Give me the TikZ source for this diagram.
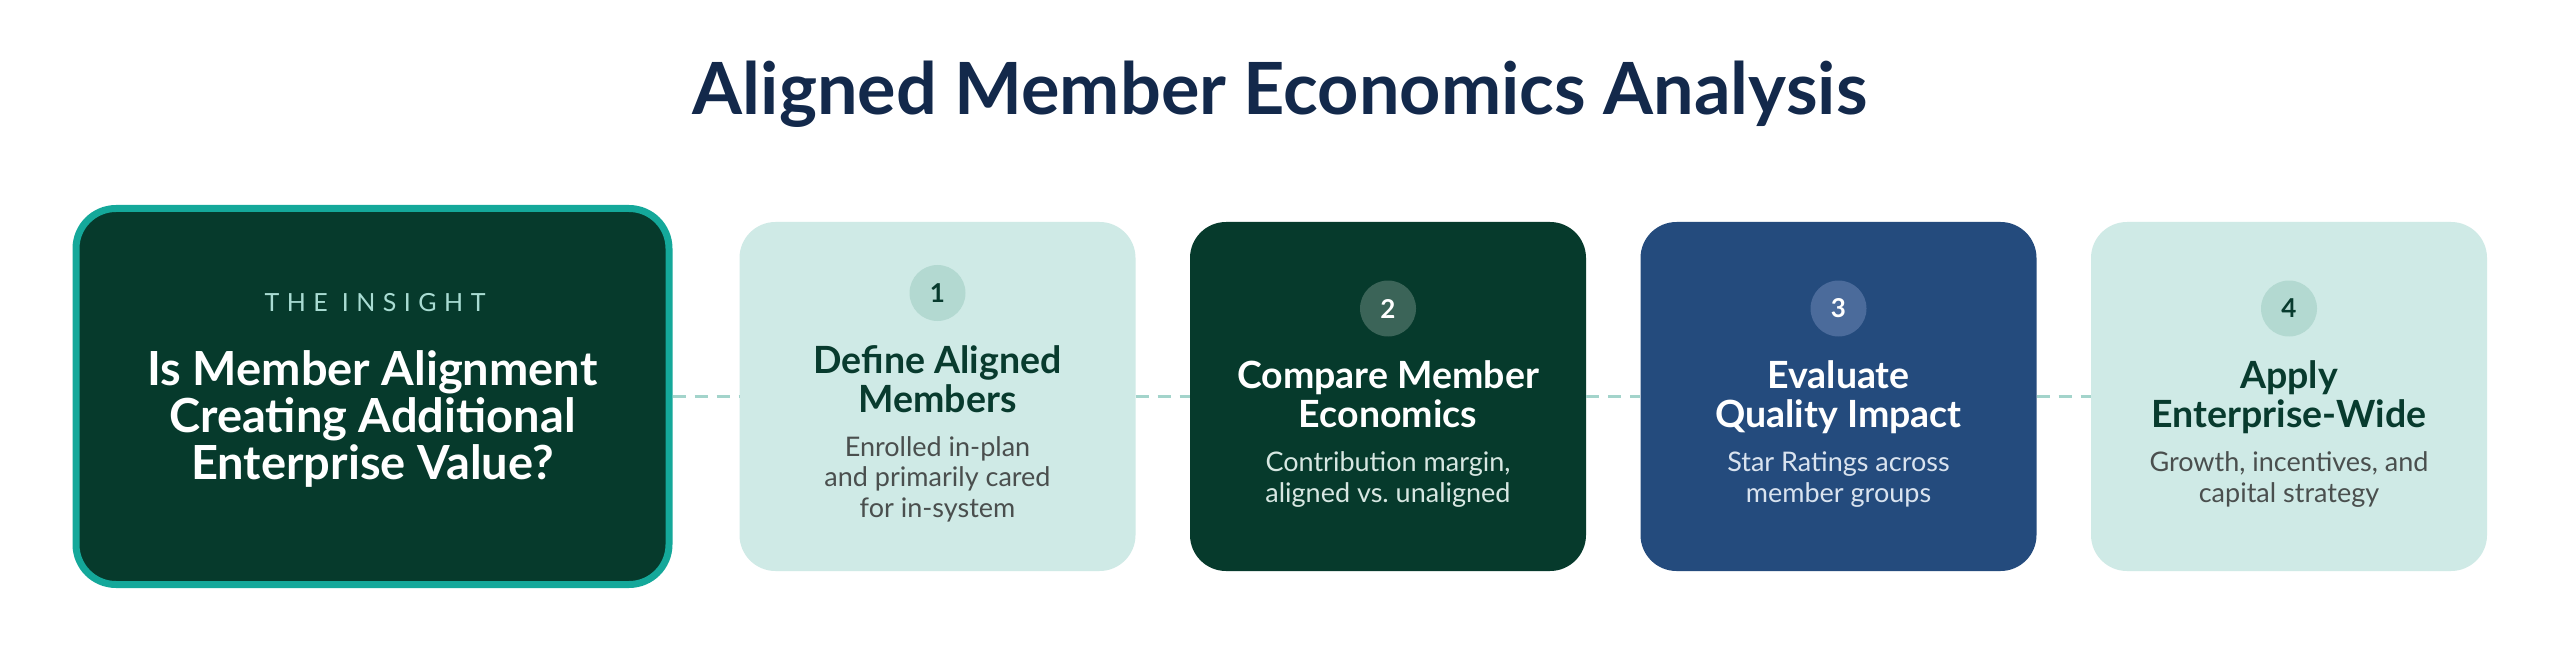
\documentclass[tikz,border=0pt]{standalone}
\usepackage{fontspec}
\setmainfont{Lato}
\definecolor{titlenavy}{HTML}{13294B}
\definecolor{dkgreen}{HTML}{063A2C}
\definecolor{tealborder}{HTML}{14A89A}
\definecolor{lightbox}{HTML}{CFEAE6}
\definecolor{bluebox}{HTML}{244B7D}
\definecolor{badgelight}{HTML}{B3D9D1}
\definecolor{badgegreen}{HTML}{3B6458}
\definecolor{badgeblue}{HTML}{4B6B9B}
\definecolor{dashcol}{HTML}{A3D4CB}
\definecolor{greentxt}{HTML}{083B2E}
\definecolor{greytxt}{HTML}{4A4F4E}
\definecolor{paletxt}{HTML}{D7E7E2}
\definecolor{palebluetxt}{HTML}{D9E3EF}
\definecolor{insighttxt}{HTML}{A9DCD3}
\newcommand{\txtblock}[3]{\parbox[t]{560pt}{\centering\fontsize{#1}{#2}\selectfont #3}}
\begin{document}
\begin{tikzpicture}[x=1pt,y=-1pt,
  stepbox/.style={rounded corners=36pt, minimum width=396pt, minimum height=349pt, inner sep=0pt, draw=none},
  insightbox/.style={rounded corners=40pt, minimum width=593pt, minimum height=376pt, inner sep=0pt, fill=dkgreen, draw=tealborder, line width=7pt},
  badge/.style={circle, minimum size=56pt, inner sep=0pt, font=\fontsize{26}{28}\selectfont\bfseries},
  conn/.style={draw=dashcol, line width=3.3pt, dash pattern=on 13pt off 9pt},
  line/.style={anchor=base, inner sep=0pt}
]
\useasboundingbox (0,0) rectangle (2560,655);
\fill[white] (0,0) rectangle (2560,655);

% title
\node[line, text=titlenavy] (title) at (1280,115) {\fontsize{72}{80}\selectfont\bfseries Aligned Member Economics Analysis};

% boxes
\node[insightbox] (ins) at (372.5,396.5) {};
\node[stepbox, fill=lightbox] (b1) at (937.5,396.5) {};
\node[stepbox, fill=dkgreen]  (b2) at (1388,396.5) {};
\node[stepbox, fill=bluebox]  (b3) at (1838.5,396.5) {};
\node[stepbox, fill=lightbox] (b4) at (2289,396.5) {};

% connectors
\draw[conn] (ins.east) -- (b1.west);
\draw[conn] (b1.east) -- (b2.west);
\draw[conn] (b2.east) -- (b3.west);
\draw[conn] (b3.east) -- (b4.west);

% insight text
\node[line, text=insighttxt] (lbl) at (375,311) {\fontsize{25}{28}\selectfont\addfontfeature{LetterSpace=30}THE INSIGHT};
\node[line, text=white] (q) at (372.5,385) {\txtblock{47}{47}{\bfseries Is Member Alignment\\Creating Additional\\Enterprise Value?}};

% step 1
\node[badge, fill=badgelight, text=greentxt] (n1) at (937.5,293) {1};
\node[line, text=greentxt] (t1) at (937.5,373) {\txtblock{37.5}{39}{\bfseries Define Aligned\\Members}};
\node[line, text=greytxt] (d1) at (937.5,456) {\txtblock{27}{30.5}{Enrolled in-plan\\and primarily cared\\for in-system}};

% step 2
\node[badge, fill=badgegreen, text=white] (n2) at (1388,308.5) {2};
\node[line, text=white] (t2) at (1388,388.5) {\txtblock{37.5}{39}{\bfseries Compare Member\\Economics}};
\node[line, text=paletxt] (d2) at (1388,471.5) {\txtblock{27}{30.5}{Contribution margin,\\aligned vs.\ unaligned}};

% step 3
\node[badge, fill=badgeblue, text=white] (n3) at (1838.5,308.5) {3};
\node[line, text=white] (t3) at (1838.5,388.5) {\txtblock{37.5}{39}{\bfseries Evaluate\\Quality Impact}};
\node[line, text=palebluetxt] (d3) at (1838.5,471.5) {\txtblock{27}{30.5}{Star Ratings across\\member groups}};

% step 4
\node[badge, fill=badgelight, text=greentxt] (n4) at (2289,308.5) {4};
\node[line, text=greentxt] (t4) at (2289,388.5) {\txtblock{37.5}{39}{\bfseries Apply\\Enterprise-Wide}};
\node[line, text=greytxt] (d4) at (2289,471.5) {\txtblock{27}{30.5}{Growth, incentives, and\\capital strategy}};
\end{tikzpicture}
\end{document}
